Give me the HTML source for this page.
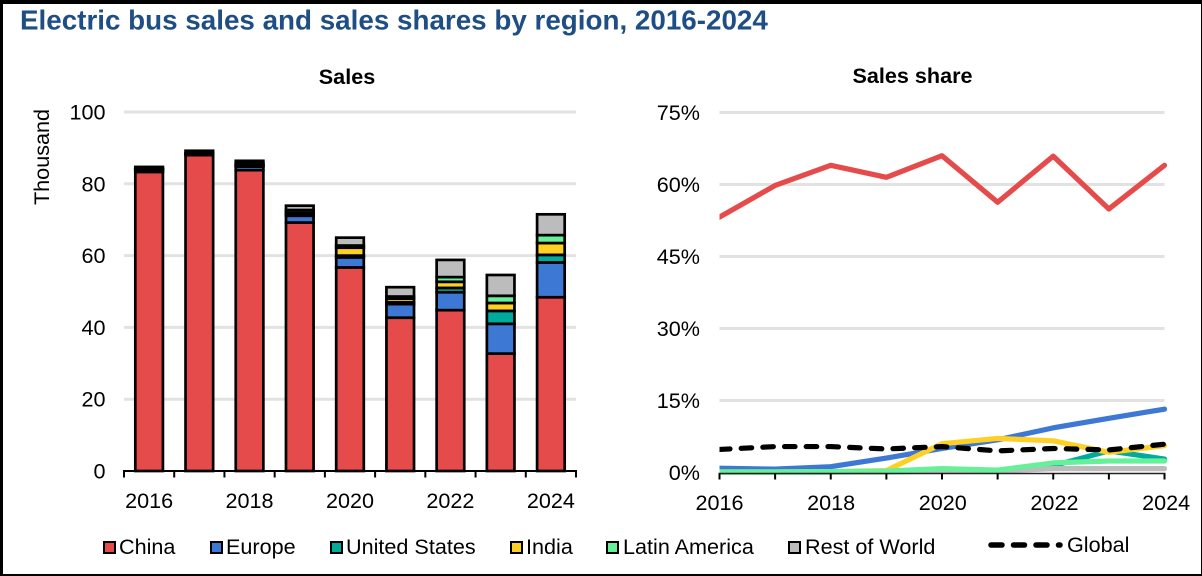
<!DOCTYPE html>
<html lang="en">
<head>
<meta charset="utf-8">
<title>Electric bus sales and sales shares by region, 2016-2024</title>
<style>
html,body{margin:0;padding:0;background:#fff;}
body{width:1202px;height:576px;overflow:hidden;position:relative;font-family:"Liberation Sans",Arial,sans-serif;}
#frame{position:absolute;left:0;top:0;width:1202px;height:576px;box-sizing:border-box;border-style:solid;border-color:#000;border-width:4px 1px 2px 3px;pointer-events:none;}
svg{position:absolute;left:0;top:0;}
text{font-family:"Liberation Sans",Arial,sans-serif;fill:#000;}
</style>
</head>
<body>
<svg id="chart" width="1202" height="576" viewBox="0 0 1202 576" xmlns="http://www.w3.org/2000/svg">
  <defs><clipPath id="share-clip"><rect x="719.5" y="90" width="470" height="400"/></clipPath></defs>
  <text x="20" y="29.5" font-size="27.8" font-weight="bold" style="fill:#1f4e85">Electric bus sales and sales shares by region, 2016-2024</text>
  <text x="347" y="84" font-size="21.6" font-weight="bold" text-anchor="middle">Sales</text>
  <text x="912.5" y="83" font-size="21.6" font-weight="bold" text-anchor="middle">Sales share</text>
  <text transform="translate(49,157) rotate(-90)" font-size="21.6" text-anchor="middle">Thousand</text>
  <g id="sales-grid"></g>
  <g id="sales-bars"></g>
  <g id="sales-axes"></g>
  <g id="share-grid"></g>
  <g id="share-lines" clip-path="url(#share-clip)"></g>
  <g id="share-axes"></g>
  <g font-size="21.6">
    <g><rect x="104" y="542" width="11" height="11" fill="#e54b4b" stroke="#000" stroke-width="2"/><text x="119" y="554">China</text></g>
    <g><rect x="211" y="542" width="11" height="11" fill="#3c78d4" stroke="#000" stroke-width="2"/><text x="226" y="554">Europe</text></g>
    <g><rect x="331" y="542" width="11" height="11" fill="#00ab9c" stroke="#000" stroke-width="2"/><text x="346" y="554">United States</text></g>
    <g><rect x="511" y="542" width="11" height="11" fill="#ffd024" stroke="#000" stroke-width="2"/><text x="526" y="554">India</text></g>
    <g><rect x="607" y="542" width="11" height="11" fill="#66f09a" stroke="#000" stroke-width="2"/><text x="623" y="554">Latin America</text></g>
    <g><rect x="789" y="542" width="11" height="11" fill="#bcbcbc" stroke="#000" stroke-width="2"/><text x="805" y="554">Rest of World</text></g>
    <g><line x1="991" y1="545" x2="1060" y2="545" stroke="#000" stroke-width="5.5" stroke-linecap="round" stroke-dasharray="11 11.5"/><text x="1067" y="552">Global</text></g>
  </g>
</svg>
<div id="frame"></div>
<script>
const years = ['2016','2017','2018','2019','2020','2021','2022','2023','2024'];
const salesTicks = [0, 20, 40, 60, 80, 100];
const shareTicks = [0, 15, 30, 45, 60, 75];

const salesChina = [83.3, 88.0, 83.8, 69.2, 56.7, 42.7, 44.8, 32.7, 48.4];
const salesEurope = [0.7, 0.2, 1.0, 1.9, 2.8, 3.8, 5.0, 8.3, 9.7];
const salesUnitedStates = [0.1, 0.1, 0.2, 0.5, 0.5, 0.5, 1.2, 3.6, 2.1];
const salesIndia = [0.0, 0.0, 0.2, 0.3, 2.2, 1.0, 1.7, 2.2, 3.3];
const salesLatinAmerica = [0.1, 0.2, 0.5, 0.8, 0.6, 0.6, 1.3, 2.0, 2.2];
const salesRestOfWorld = [0.5, 0.7, 0.7, 1.2, 2.2, 2.6, 4.8, 5.8, 5.8];

const shareChina = [53.2, 59.8, 64.0, 61.5, 66.0, 56.3, 65.9, 54.9, 64.0];
const shareEurope = [0.9, 0.7, 1.2, 3.0, 5.0, 6.8, 9.3, 11.3, 13.2];
const shareUnitedStates = [0.1, 0.1, 0.1, 0.2, 0.4, 0.3, 1.4, 4.5, 2.8];
const shareIndia = [0.1, 0.1, 0.2, 0.4, 6.0, 7.1, 6.6, 4.2, 5.6];
const shareRestOfWorld = [0.1, 0.1, 0.1, 0.1, 0.3, 0.3, 0.8, 0.8, 0.8];
const shareLatinAmerica = [0.1, 0.1, 0.2, 0.3, 0.8, 0.5, 2.0, 2.4, 2.4];
const shareGlobal = [4.8, 5.4, 5.4, 4.9, 5.4, 4.5, 5.0, 4.7, 5.9];

const SVGNS = 'http://www.w3.org/2000/svg';
const salesLeft = 124, salesRight = 576, salesZero = 471, salesTop = 112;
const shareLeft = 719.5, shareRight = 1164.5, shareZero = 472.5, shareTop = 112.5;
const barWidth = 27.6;

function salesBand(i) { return salesLeft + (salesRight - salesLeft) * i / years.length; }
function salesX(i) { return salesBand(i + 0.5); }
function salesY(v) { return salesZero - (salesZero - salesTop) * v / 100; }
function shareX(i) { return shareLeft + (shareRight - shareLeft) * i / (years.length - 1); }
function shareY(v) { return shareZero - (shareZero - shareTop) * v / 75; }

function make(tag, parent, attrs) {
  const el = document.createElementNS(SVGNS, tag);
  for (const k in attrs) { el.setAttribute(k, attrs[k]); }
  parent.appendChild(el);
  return el;
}

const salesGrid = document.getElementById('sales-grid');
const salesBars = document.getElementById('sales-bars');
const salesAxes = document.getElementById('sales-axes');
const shareGrid = document.getElementById('share-grid');
const shareLines = document.getElementById('share-lines');
const shareAxes = document.getElementById('share-axes');

salesTicks.forEach(function (t) {
  if (t > 0) {
    const g = make('line', salesGrid, {x1: salesLeft, x2: salesRight, y1: salesY(t), y2: salesY(t), stroke: '#e2e2e2', 'stroke-width': 3});
    
    
  }
  const lab = make('text', salesAxes, {x: 105.5, y: salesY(t) + 7.5, 'font-size': 21.6, 'text-anchor': 'end'});
  lab.textContent = String(t);
  
  
});

const salesStack = [
  [salesChina, '#e54b4b', 'china'],
  [salesEurope, '#3c78d4', 'europe'],
  [salesUnitedStates, '#00ab9c', 'united-states'],
  [salesIndia, '#ffd024', 'india'],
  [salesLatinAmerica, '#66f09a', 'latin-america'],
  [salesRestOfWorld, '#bcbcbc', 'rest-of-world']
];

years.forEach(function (yr, i) {
  let base = 0;
  salesStack.forEach(function (s) {
    const v = s[0][i];
    const r = make('rect', salesBars, {
      x: salesX(i) - barWidth / 2,
      y: salesY(base + v),
      width: barWidth,
      height: salesY(base) - salesY(base + v),
      fill: s[1],
      stroke: '#000',
      'stroke-width': 2.7
    });
    
    
    base += v;
  });
});

const salesAxisLine = make('line', salesAxes, {x1: salesLeft - 1, x2: salesRight + 1, y1: salesZero, y2: salesZero, stroke: '#000', 'stroke-width': 2});



for (let i = 0; i <= years.length; i++) {
  const t = make('line', salesAxes, {x1: salesBand(i), x2: salesBand(i), y1: salesZero, y2: salesZero + 6.5, stroke: '#000', 'stroke-width': 2});
  
  
}

years.forEach(function (yr, i) {
  if (i % 2 === 0) {
    const lab = make('text', salesAxes, {x: salesX(i), y: 508, 'font-size': 21.6, 'text-anchor': 'middle'});
    lab.textContent = yr;
    
    
  }
});

shareTicks.forEach(function (t) {
  if (t > 0) {
    const g = make('line', shareGrid, {x1: shareLeft, x2: shareRight, y1: shareY(t), y2: shareY(t), stroke: '#e2e2e2', 'stroke-width': 3});
    
    
  }
  const lab = make('text', shareAxes, {x: 700, y: shareY(t) + 7.5, 'font-size': 21.6, 'text-anchor': 'end'});
  lab.textContent = t + '%';
  
  
});

const shareSeries = [
  [shareChina, '#e54b4b', 'china'],
  [shareEurope, '#3c78d4', 'europe'],
  [shareUnitedStates, '#00ab9c', 'united-states'],
  [shareIndia, '#ffd024', 'india'],
  [shareRestOfWorld, '#bcbcbc', 'rest-of-world'],
  [shareLatinAmerica, '#66f09a', 'latin-america']
];

function linePoints(values) {
  return values.map(function (v, i) { return shareX(i) + ',' + shareY(v); }).join(' ');
}

shareSeries.forEach(function (s) {
  const p = make('polyline', shareLines, {
    points: linePoints(s[0]),
    fill: 'none',
    stroke: s[1],
    'stroke-width': 5.2,
    'stroke-linecap': 'round',
    'stroke-linejoin': 'round'
  });
  
  
});

const globalLine = make('polyline', shareLines, {
  points: linePoints(shareGlobal),
  fill: 'none',
  stroke: '#000',
  'stroke-width': 5.2,
  'stroke-linecap': 'round',
  'stroke-linejoin': 'round',
  'stroke-dasharray': '10.5 11.2'
});



const shareAxisLine = make('line', shareAxes, {x1: shareLeft - 1, x2: shareRight + 1, y1: shareZero + 1, y2: shareZero + 1, stroke: '#222', 'stroke-width': 1.5});



years.forEach(function (yr, i) {
  const t = make('line', shareAxes, {x1: shareX(i), x2: shareX(i), y1: shareZero + 1, y2: shareZero + 7, stroke: '#000', 'stroke-width': 2});
  
  
  if (i % 2 === 0) {
    const lab = make('text', shareAxes, {x: shareX(i) + i * 0.2, y: 510, 'font-size': 21.6, 'text-anchor': 'middle'});
    lab.textContent = yr;
    
    
  }
});
</script>
</body>
</html>
